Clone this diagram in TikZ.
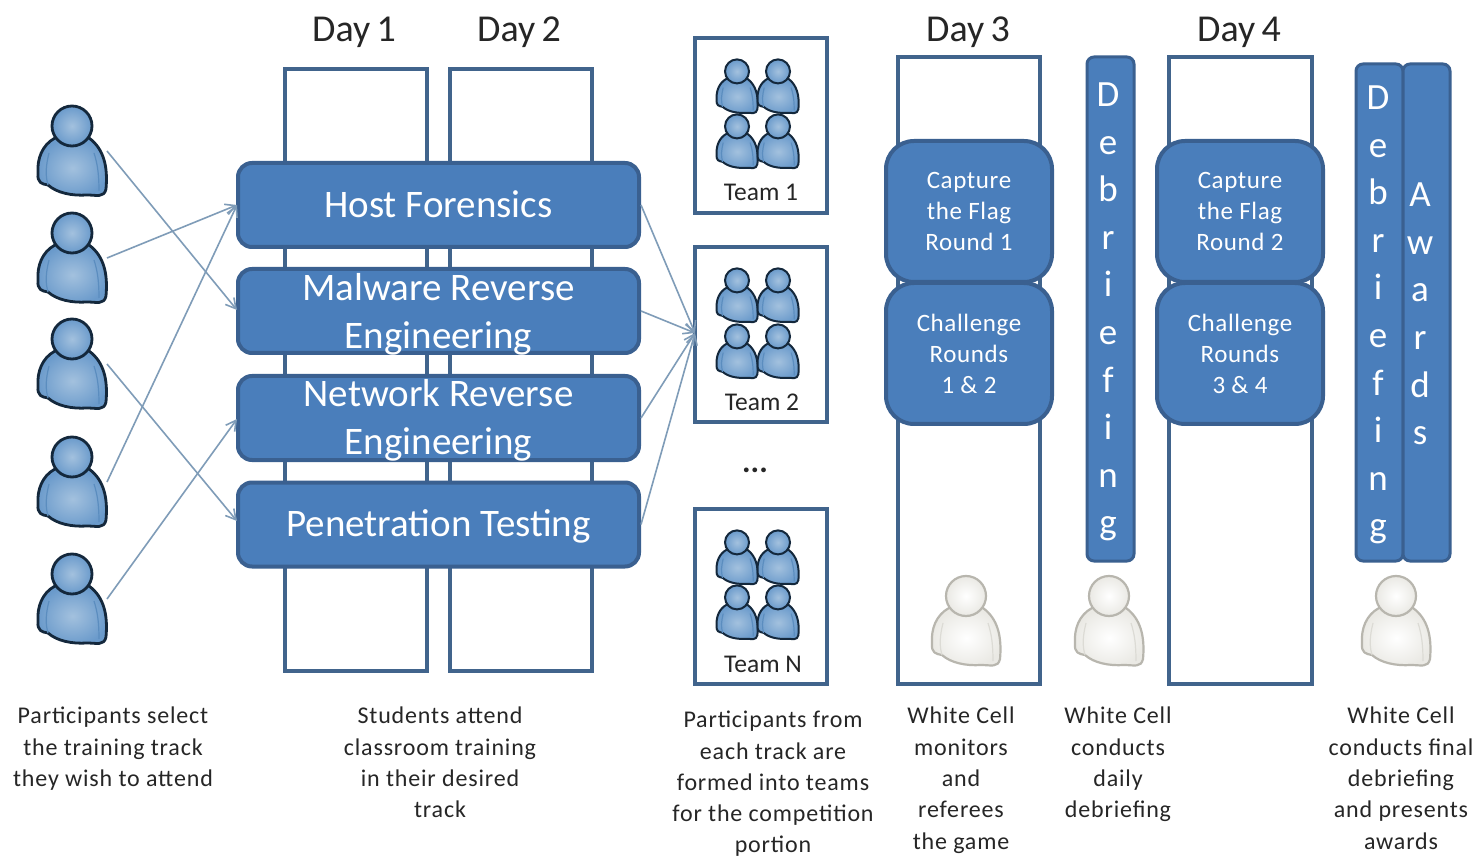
\documentclass[tikz,border=0pt]{standalone}
\usepackage{fontspec}
\setmainfont{Carlito}
\usetikzlibrary{arrows.meta}
\definecolor{barfill}{HTML}{4A7EBB}
\definecolor{baredge}{HTML}{3A6090}
\definecolor{boxedge}{HTML}{41648C}
\definecolor{arrowc}{HTML}{7F9CB8}
\definecolor{textc}{HTML}{262626}
\newfontfamily\spcap[LetterSpace=3.5]{Carlito}
\newfontfamily\spwhite[LetterSpace=2.5]{Carlito}
\tikzset{
  x=1pt,y=-1pt,
  daybox/.style={draw=boxedge,line width=4pt,fill=white,inner sep=0pt},
  trackbar/.style={draw=baredge,line width=4pt,fill=barfill,rounded corners=14pt,text=white,inner sep=0pt,align=center},
  bigtext/.style={font=\fontsize{39}{48}\selectfont},
  tracktext/.style={text=white,inner sep=0pt,align=center,bigtext},
  roundbox/.style={draw=baredge,line width=4pt,fill=barfill,rounded corners=28pt,text=white,inner sep=0pt,align=center,font=\spwhite\fontsize{25}{31}\selectfont},
  vbar/.style={draw=baredge,line width=3pt,fill=barfill,rounded corners=7pt},
  vtext/.style={text=white,align=center,inner sep=0pt,font=\fontsize{37}{47.6}\selectfont},
  captext/.style={text=textc,align=center,inner sep=0pt,font=\spcap\fontsize{24}{31.3}\selectfont},
  daylabel/.style={text=textc,inner sep=0pt,font=\fontsize{38}{40}\selectfont},
  teamlabel/.style={text=textc,inner sep=0pt,font=\fontsize{25.5}{28}\selectfont},
  linkline/.style={draw=arrowc,line width=1.6pt,-{Straight Barb[length=10pt,width=11pt]}},
}
% name, x, top y, scale, inner, outer, edge, arm, line width
\newcommand\personfig[9]{%
  \begin{scope}[shift={(#2,#3)},scale=#4]
    \draw[draw=#7,line width=#9pt,line join=round,inner color=#5,outer color=#6]
      (-17,31) .. controls (-30,38) and (-35,52) .. (-34,66)
      .. controls (-35,76) and (-30,77) .. (-24,78)
      .. controls (-15,86) and (0,89) .. (15,88)
      .. controls (25,88) and (32,91) .. (34,82)
      .. controls (36,60) and (32,42) .. (17,31) -- cycle;
    \draw[draw=#8,line width=1.2pt] (-23,46) .. controls (-26,58) and (-27,68) .. (-24,78);
    \draw[draw=#8,line width=1.2pt] (22,46) .. controls (26,58) and (27,70) .. (27,84);
    \draw[draw=#7,line width=#9pt,inner color=#5,outer color=#6] (0,19) circle (20);
    \coordinate (#1) at (35,44);
  \end{scope}}
\newcommand\bluefig[3]{\personfig{#1}{#2}{#3}{1}{BLi}{BLo}{BLe}{BLa}{2.8}}
\newcommand\smallfig[2]{\personfig{s#1#2}{#1}{#2}{0.6}{BLi}{BLo}{BLe}{BLa}{2}}
\newcommand\whitefig[3]{\personfig{#1}{#2}{#3}{1}{white}{WHo}{WHe}{WHa}{2.2}}
\definecolor{BLi}{HTML}{A3C1DE}
\definecolor{BLo}{HTML}{6A9ACB}
\definecolor{BLe}{HTML}{14283C}
\definecolor{BLa}{HTML}{5B8DBF}
\definecolor{WHo}{HTML}{EAE9E4}
\definecolor{WHe}{HTML}{B8B6AE}
\definecolor{WHa}{HTML}{DCDBD5}
\begin{document}
\begin{tikzpicture}
\useasboundingbox[fill=white] (0,0) rectangle (1478,858);
% day labels
\node[daylabel] (d1) at (354,32) {Day\,1};
\node[daylabel] (d2) at (519,32) {Day\,2};
\node[daylabel] (d3) at (968,32) {Day\,3};
\node[daylabel] (d4) at (1239,32) {Day\,4};
% day boxes
\draw[daybox] (285,69) rectangle (427,671);
\draw[daybox] (450,69) rectangle (592,671);
\draw[daybox] (898,57) rectangle (1040,684);
\draw[daybox] (1169,57) rectangle (1312,684);
% team boxes
\draw[daybox] (695,38) rectangle (827,213);
\draw[daybox] (695,247) rectangle (827,422);
\draw[daybox] (695,509) rectangle (827,684);
\coordinate (t2) at (695,333);
% tracks
\node[trackbar,minimum width=401pt,minimum height=84pt] (host) at (438.5,205) {};
\node[trackbar,minimum width=401pt,minimum height=84pt] (mal) at (438.5,311) {};
\node[trackbar,minimum width=401pt,minimum height=84pt] (net) at (438.5,418) {};
\node[trackbar,minimum width=401pt,minimum height=84pt] (pen) at (438.5,524.5) {};
\node[tracktext] (hostt) at (438.5,204) {Host Forensics};
\node[tracktext] (malt) at (438.5,314) {Malware Reverse\\Engineering};
\node[tracktext] (nett) at (438.5,420) {Network Reverse\\Engineering};
\node[tracktext] (pent) at (438.5,526) {Penetration Testing};
% rounds
\node[roundbox,minimum width=166pt,minimum height=141pt] (c1) at (969,211.5) {Capture\\the Flag\\Round 1};
\node[roundbox,minimum width=166pt,minimum height=141pt] (r1) at (969,353.5) {Challenge\\Rounds\\1 \& 2};
\node[roundbox,minimum width=166pt,minimum height=141pt] (c2) at (1240,211.5) {Capture\\the Flag\\Round 2};
\node[roundbox,minimum width=166pt,minimum height=141pt] (r2) at (1240,353.5) {Challenge\\Rounds\\3 \& 4};
% vertical bars
\draw[vbar] (1087,57) rectangle (1134,561);
\draw[vbar] (1356,64) rectangle (1403,561);
\draw[vbar] (1403,64) rectangle (1450,561);
\node[vtext] (v1) at (1108,312) {D\\e\\b\\r\\i\\e\\f\\i\\n\\g};
\node[vtext] (v2) at (1378,315) {D\\e\\b\\r\\i\\e\\f\\i\\n\\g};
\node[vtext] (v3) at (1420,314) {A\\w\\a\\r\\d\\s};
% people
\bluefig{p1}{72}{107}
\bluefig{p2}{72}{214}
\bluefig{p3}{72}{320}
\bluefig{p4}{72}{438}
\bluefig{p5}{72}{555}
\foreach \yy/\zz in {60/115,269/325,531/586}{
  \smallfig{737}{\yy}\smallfig{778}{\yy}\smallfig{737}{\zz}\smallfig{778}{\zz}
}
\whitefig{w1}{966}{577}
\whitefig{w2}{1109}{577}
\whitefig{w3}{1396}{577}
% team labels
\node[teamlabel] (t1l) at (761,192) {Team 1};
\node[teamlabel] (t2l) at (762,402) {Team 2};
\node[teamlabel] (tnl) at (763,664) {Team N};
\node[text=textc,inner sep=0pt,font=\bfseries\fontsize{32}{32}\selectfont] (dots) at (755,470) {...};
% connectors
\coordinate (m1) at (237,310);
\coordinate (h1) at (237,205);
\coordinate (e1) at (237,521);
\coordinate (n1) at (237,419);
\draw[linkline] (p1) -- (m1);
\draw[linkline] (p2) -- (h1);
\draw[linkline] (p3) -- (e1);
\draw[linkline] (p4) -- (h1);
\draw[linkline] (p5) -- (n1);
\draw[linkline] (host.east) -- (t2);
\draw[linkline] (mal.east) -- (t2);
\draw[linkline] (net.east) -- (t2);
\draw[linkline] (pen.east) -- (t2);
% captions
\node[captext,anchor=north] (a) at (113,707) {Participants select\\the training track\\they wish to attend};
\node[captext,anchor=north] (b) at (440,707) {Students attend\\classroom training\\in their desired\\track};
\node[captext,anchor=north] (e) at (773,711) {Participants from\\each track are\\formed into teams\\for the competition\\portion};
\node[captext,anchor=north] (f) at (961,707) {White Cell\\monitors\\and\\referees\\the game};
\node[captext,anchor=north] (g) at (1118,707) {White Cell\\conducts\\daily\\debriefing};
\node[captext,anchor=north] (h) at (1401,707) {White Cell\\conducts final\\debriefing\\and presents\\awards};
\end{tikzpicture}
\end{document}
